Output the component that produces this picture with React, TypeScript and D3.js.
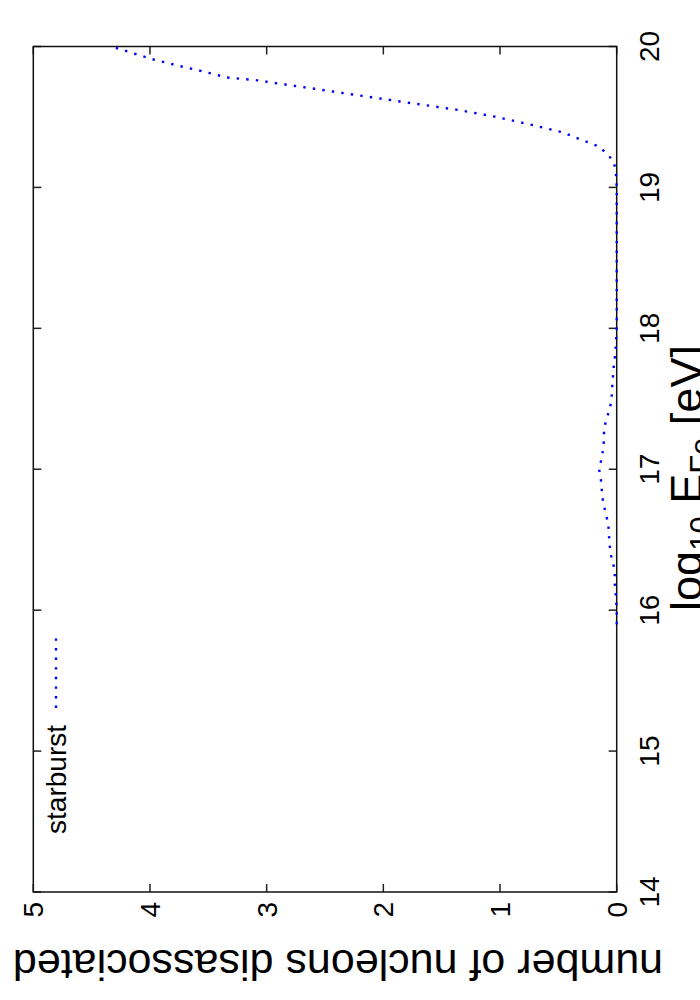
import React from "react";
import * as d3 from "d3";

const energyTicks = [14, 15, 16, 17, 18, 19, 20];
const nucleonTicks = [0, 1, 2, 3, 4, 5];
const seriesName = "starburst";
const energy = [15.9, 16.0, 16.05, 16.12, 16.19, 16.26, 16.33, 16.39, 16.46, 16.53, 16.6, 16.66, 16.73, 16.8, 16.87, 16.94, 17.0, 17.07, 17.14, 17.21, 17.27, 17.34, 17.41, 17.47, 17.54, 17.61, 17.68, 17.75, 17.82, 17.9, 18.0, 18.5, 19.0, 19.08, 19.13, 19.19, 19.24, 19.29, 19.34, 19.39, 19.44, 19.5, 19.55, 19.59, 19.61, 19.64, 19.67, 19.7, 19.73, 19.76, 19.78, 19.83, 19.86, 19.91, 20.0];
const nucleons = [0, 0, 0.003, 0.009, 0.017, 0.017, 0.029, 0.049, 0.06, 0.066, 0.071, 0.086, 0.106, 0.123, 0.129, 0.137, 0.151, 0.131, 0.117, 0.109, 0.109, 0.094, 0.066, 0.049, 0.04, 0.037, 0.03, 0.023, 0.012, 0.006, 0, 0, 0, 0.005, 0.01, 0.03, 0.086, 0.15, 0.31, 0.46, 0.71, 1.03, 1.36, 1.69, 1.86, 2.1, 2.35, 2.59, 2.84, 3.08, 3.34, 3.58, 3.74, 3.98, 4.33];

const FONT = "'Liberation Sans', Arial, Helvetica, sans-serif";

export default function App() {
  // chart drawn in unrotated coords, then rotated -90deg
  const x = d3.scaleLinear().domain([14, 20]).range([108, 953.5]);
  const y = d3.scaleLinear().domain([0, 5]).range([616.7, 33.3]);
  const [x0, x1] = x.range();
  const [yb, yt] = y.range();
  const tickLen = 8;
  const data = energy.map((e, i) => [e, nucleons[i]] as [number, number]);
  const line = d3
    .line<[number, number]>()
    .x((d) => x(d[0]))
    .y((d) => y(d[1]));
  const legU1 = 292;
  const legU2 = 363;

  return (
    <svg
      width={700}
      height={1000}
      style={{ position: "absolute", left: 0, top: 0, background: "#fff" }}
      fontFamily={FONT}
    >
      <g transform="translate(0,1000) rotate(-90)">
        {/* ticks */}
        {energyTicks.map((t) => (
          <g key={"xt" + t}>
            <line x1={x(t)} x2={x(t)} y1={yb} y2={yb - tickLen} stroke="#222" strokeWidth={1.5} />
            <line x1={x(t)} x2={x(t)} y1={yt} y2={yt + tickLen} stroke="#222" strokeWidth={1.5} />
            <text x={x(t)} y={yb + 42} fontSize={28} textAnchor="middle" fill="#000">
              {t}
            </text>
          </g>
        ))}
        {nucleonTicks.map((t) => (
          <g key={"yt" + t}>
            <line x1={x0} x2={x0 + tickLen} y1={y(t)} y2={y(t)} stroke="#222" strokeWidth={1.5} />
            <line x1={x1} x2={x1 - tickLen} y1={y(t)} y2={y(t)} stroke="#222" strokeWidth={1.5} />
            <text x={x0 - 10} y={y(t) + 10} fontSize={28} textAnchor="end" fill="#000">
              {t}
            </text>
          </g>
        ))}
        {/* frame */}
        <rect x={x0} y={yt} width={x1 - x0} height={yb - yt} fill="none" stroke="#111" strokeWidth={1.5} />
        {/* curve */}
        <path
          d={line(data) || ""}
          fill="none"
          stroke="#0000ff"
          strokeWidth={2.4}
          strokeDasharray="2.4 7.2"
        />
        {/* legend */}
        <text x={legU1 - 17} y={66} fontSize={28} textAnchor="end" fill="#000">
          {seriesName}
        </text>
        <line x1={legU1} x2={legU2} y1={56} y2={56} stroke="#0000ff" strokeWidth={2.4} strokeDasharray="2.4 7.2" />
        {/* x axis label */}
        <text x={522} y={702} fontSize={45} textAnchor="middle" fill="#000">
          log
          <tspan fontSize={31} dy={10}>10</tspan>
          <tspan dy={-10}> E</tspan>
          <tspan fontSize={31} dy={10}>Fe</tspan>
          <tspan dy={-10}> [eV]</tspan>
        </text>
        {/* y axis label */}
        <text
          transform={`translate(50,338) rotate(-90)`}
          fontSize={43}
          textAnchor="middle"
          fill="#000"
        >
          number of nucleons disassociated
        </text>
      </g>
    </svg>
  );
}
